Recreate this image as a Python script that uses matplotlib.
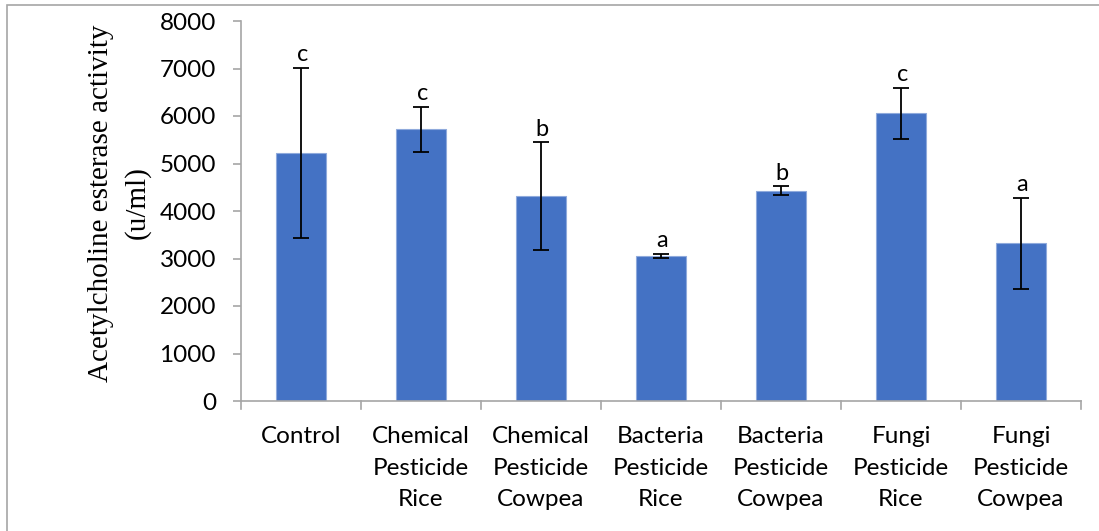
import matplotlib
matplotlib.use("Agg")
import matplotlib.pyplot as plt
from matplotlib.patches import Rectangle

categories = ["Control", "Chemical\nPesticide\nRice", "Chemical\nPesticide\nCowpea",
              "Bacteria\nPesticide\nRice", "Bacteria\nPesticide\nCowpea",
              "Fungi\nPesticide\nRice", "Fungi\nPesticide\nCowpea"]
means = [5230, 5725, 4310, 3055, 4430, 6055, 3320]
errors = [1790, 475, 1135, 35, 90, 535, 960]
letters = ["c", "c", "b", "a", "b", "c", "a"]
yticks = [0, 1000, 2000, 3000, 4000, 5000, 6000, 7000, 8000]

W, H = 1099, 531
fig = plt.figure(figsize=(W / 100, H / 100), dpi=100)
ax = fig.add_axes([241 / W, 1 - 401 / H, (1081 - 241) / W, (401 - 21) / H])

x = list(range(len(categories)))
ax.bar(x, means, width=0.415, color="#4472C4", edgecolor="#8FAADC", linewidth=0.8, zorder=2)
ax.errorbar(x, means, yerr=errors, fmt="none", ecolor="black", elinewidth=1.3,
            capsize=5.5, capthick=1.3, zorder=3)
for xi, m, e, l in zip(x, means, errors, letters):
    ax.annotate(l, (xi, m + e), xytext=(1, 2), textcoords="offset points",
                ha="center", va="bottom", fontsize=17, family="Lato")

ax.set_xlim(-0.5, len(categories) - 0.5)
ax.set_ylim(0, 8000)
ax.set_yticks(yticks)
ax.set_yticklabels([str(v) for v in yticks], family="Lato", fontsize=17.5)
ax.set_xticks(x)
ax.set_xticklabels(categories, family="Lato", fontsize=17.5, linespacing=1.63)
ax.tick_params(axis="x", length=0, pad=18)
ax.tick_params(axis="y", length=6, color="#A6A6A6", width=1.2, pad=12)
for xb in [i - 0.5 for i in range(len(categories) + 1)]:
    ax.plot([xb, xb], [0, -0.022], transform=ax.get_xaxis_transform(),
            color="#A6A6A6", lw=1.2, clip_on=False)

for s in ["top", "right"]:
    ax.spines[s].set_visible(False)
for s in ["left", "bottom"]:
    ax.spines[s].set_color("#A6A6A6")
    ax.spines[s].set_linewidth(1.2)

ax.set_ylabel("Acetylcholine esterase activity\n(u/ml)", family="Liberation Serif",
              fontsize=21, linespacing=1.5)
ax.yaxis.set_label_coords(-90 / 840, 0.5 + 8 / 380)

fig.patches.append(Rectangle((7 / W, -0.1), 1.2, 1 - 5 / H + 0.1, transform=fig.transFigure,
                             fill=False, edgecolor="#A6A6A6", linewidth=1.2))

fig.savefig("out.png", dpi=100)
